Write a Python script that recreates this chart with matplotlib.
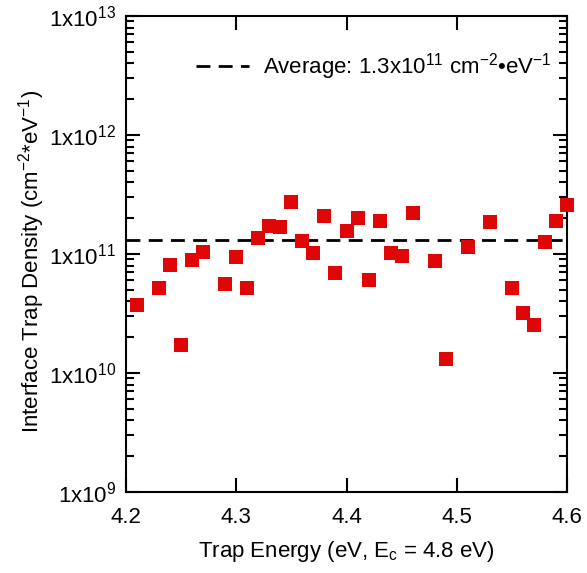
import math
import matplotlib
matplotlib.use("Agg")
import matplotlib.pyplot as plt
from matplotlib.ticker import FixedLocator, LogLocator, NullFormatter, FuncFormatter

plt.rcParams['font.family'] = ['Liberation Sans', 'DejaVu Sans']
plt.rcParams['mathtext.fontset'] = 'custom'
plt.rcParams['mathtext.rm'] = 'Liberation Sans'
plt.rcParams['mathtext.it'] = 'Liberation Sans'
plt.rcParams['mathtext.default'] = 'regular'

# Trap energy (eV) and interface trap density (cm^-2 eV^-1)
energy = [4.21, 4.23, 4.24, 4.25, 4.26, 4.27, 4.29, 4.30, 4.31, 4.32,
          4.33, 4.34, 4.35, 4.36, 4.37, 4.38, 4.39, 4.40, 4.41, 4.42,
          4.43, 4.44, 4.45, 4.46, 4.48, 4.49, 4.51, 4.53, 4.55, 4.56,
          4.57, 4.58, 4.59, 4.60]
dit = [3.76e10, 5.15e10, 8.1e10, 1.71e10, 8.9e10, 1.04e11, 5.6e10, 9.5e10, 5.2e10, 1.37e11,
       1.71e11, 1.69e11, 2.72e11, 1.28e11, 1.02e11, 2.1e11, 6.95e10, 1.56e11, 1.99e11, 6.0e10,
       1.89e11, 1.02e11, 9.6e10, 2.21e11, 8.7e10, 1.30e10, 1.15e11, 1.85e11, 5.2e10, 3.2e10,
       2.55e10, 1.26e11, 1.9e11, 2.58e11]
average = 1.3e11

x_ticks = [4.2, 4.3, 4.4, 4.5, 4.6]
x_tick_labels = ["4.2", "4.3", "4.4", "4.5", "4.6"]
y_decades = [1e9, 1e10, 1e11, 1e12, 1e13]

fig = plt.figure(figsize=(5.87, 5.73), dpi=100)
ax = fig.add_axes([0.2147, 0.1414, 0.9659 - 0.2147, 0.9721 - 0.1414])

ax.axhline(average, color='black', lw=2, ls=(0, (5, 3)), zorder=2,
           label="Average: 1.3x10$^{11}$ cm$^{-2}$•eV$^{-1}$")
ax.plot(energy, dit, ls='none', marker='s', ms=10, color='#DF0606',
        markeredgewidth=0, zorder=3, clip_on=False)

ax.set_yscale('log')
ax.set_xlim(4.2, 4.6)
ax.set_ylim(1e9, 1e13)

ax.xaxis.set_major_locator(FixedLocator(x_ticks))
ax.set_xticklabels(x_tick_labels)
ax.yaxis.set_major_locator(FixedLocator(y_decades))
ax.yaxis.set_minor_locator(LogLocator(base=10, subs=range(2, 10)))
ax.yaxis.set_minor_formatter(NullFormatter())
ax.yaxis.set_major_formatter(FuncFormatter(
    lambda v, p: r"1x10$^{%d}$" % round(math.log10(v))))

for s in ax.spines.values():
    s.set_linewidth(1.5)

ax.tick_params(which='major', direction='in', length=10, width=1.5,
               top=True, right=True, labelsize=16, pad=7)
ax.tick_params(axis='x', which='major', pad=11)
ax.tick_params(which='minor', direction='in', length=6, width=1.5,
               left=True, right=True)
ax.tick_params(axis='x', which='minor', bottom=False, top=False)

ax.set_xlabel("Trap Energy (eV, E$_c$ = 4.8 eV)", fontsize=16, labelpad=8)
ax.set_ylabel("Interface Trap Density (cm$^{-2}$*eV$^{-1}$)", fontsize=16)
ax.yaxis.set_label_coords(-0.18, 0.485)

leg = ax.legend(loc='upper right', frameon=False, fontsize=16,
                handlelength=2.4, handletextpad=0.6, borderaxespad=0.3,
                bbox_to_anchor=(1.0, 0.958))

fig.savefig("out.png", dpi=100)
